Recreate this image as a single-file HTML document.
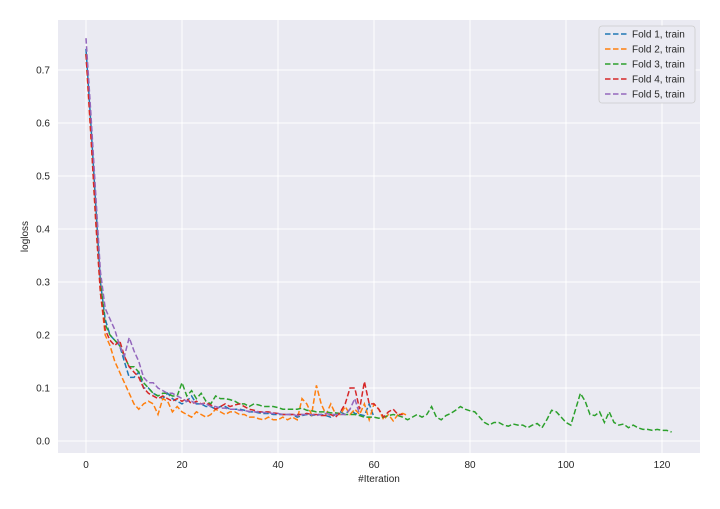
<!DOCTYPE html>
<html><head><meta charset="utf-8"><style>
body{margin:0;background:#fff;font-family:"Liberation Sans",sans-serif}
svg text{font-family:"Liberation Sans",sans-serif;fill:#262626}
</style></head><body>
<svg id="c" width="720" height="504"></svg>
<script>
const xTicks=[0,20,40,60,80,100,120];
const yTicks=[0.0,0.1,0.2,0.3,0.4,0.5,0.6,0.7];
const seriesNames=["Fold 1, train","Fold 2, train","Fold 3, train","Fold 4, train","Fold 5, train"];
const colors=["#1f77b4","#ff7f0e","#2ca02c","#d62728","#9467bd"];
const fold1=[0.74,0.6,0.45,0.3,0.23,0.2,0.19,0.18,0.15,0.12,0.12,0.13,0.1,0.1,0.09,0.085,0.08,0.09,0.08,0.075,0.07,0.075,0.085,0.07,0.07,0.065,0.065,0.06,0.065,0.065,0.06,0.06,0.06,0.058,0.055,0.055,0.053,0.052,0.052,0.05,0.05,0.05,0.05,0.05,0.045,0.048,0.05,0.048,0.05,0.05,0.048,0.045,0.05,0.055,0.05,0.06,0.052,0.05,0.048,0.07,0.045];
const fold2=[0.73,0.58,0.42,0.28,0.2,0.18,0.15,0.13,0.11,0.09,0.07,0.06,0.07,0.075,0.07,0.05,0.08,0.075,0.055,0.065,0.055,0.05,0.045,0.055,0.05,0.045,0.05,0.06,0.055,0.05,0.055,0.055,0.05,0.05,0.045,0.045,0.042,0.04,0.045,0.04,0.04,0.045,0.04,0.045,0.04,0.08,0.07,0.05,0.105,0.07,0.05,0.07,0.05,0.05,0.065,0.05,0.06,0.05,0.07,0.04,0.07,0.06,0.04,0.05,0.038,0.05,0.052,0.048];
const fold3=[0.73,0.6,0.45,0.3,0.22,0.2,0.19,0.18,0.16,0.14,0.14,0.13,0.11,0.1,0.09,0.085,0.09,0.09,0.085,0.085,0.11,0.085,0.095,0.08,0.09,0.075,0.07,0.085,0.08,0.08,0.078,0.075,0.07,0.07,0.065,0.07,0.068,0.065,0.065,0.065,0.063,0.06,0.06,0.06,0.06,0.062,0.058,0.057,0.055,0.055,0.055,0.053,0.053,0.052,0.05,0.05,0.05,0.048,0.045,0.045,0.045,0.043,0.045,0.048,0.05,0.048,0.045,0.04,0.045,0.05,0.045,0.05,0.065,0.045,0.04,0.048,0.052,0.058,0.065,0.06,0.057,0.055,0.045,0.035,0.03,0.035,0.035,0.03,0.028,0.032,0.03,0.03,0.025,0.03,0.033,0.025,0.04,0.058,0.055,0.045,0.035,0.03,0.06,0.09,0.075,0.05,0.048,0.055,0.035,0.055,0.035,0.03,0.032,0.025,0.03,0.025,0.022,0.022,0.02,0.022,0.02,0.02,0.017];
const fold4=[0.73,0.58,0.42,0.28,0.21,0.19,0.18,0.19,0.16,0.14,0.13,0.12,0.1,0.09,0.085,0.08,0.085,0.08,0.075,0.08,0.075,0.08,0.07,0.075,0.07,0.072,0.068,0.06,0.065,0.07,0.065,0.068,0.07,0.065,0.06,0.058,0.055,0.055,0.055,0.053,0.052,0.05,0.05,0.05,0.05,0.05,0.052,0.05,0.05,0.048,0.048,0.05,0.045,0.055,0.07,0.1,0.1,0.06,0.112,0.07,0.07,0.06,0.045,0.055,0.06,0.05,0.05];
const fold5=[0.76,0.62,0.47,0.32,0.25,0.23,0.21,0.18,0.16,0.195,0.17,0.15,0.12,0.11,0.11,0.1,0.095,0.09,0.09,0.085,0.08,0.075,0.075,0.07,0.07,0.07,0.065,0.065,0.062,0.062,0.06,0.06,0.058,0.057,0.056,0.055,0.055,0.054,0.053,0.052,0.052,0.05,0.05,0.05,0.048,0.05,0.05,0.05,0.048,0.05,0.052,0.05,0.05,0.05,0.05,0.06,0.08,0.05];
const series=[fold1,fold2,fold3,fold4,fold5];
const NS="http://www.w3.org/2000/svg";
const svg=document.getElementById('c');
const L=58,R=700,T=20,B=453;
const x=v=>86+(v-0)*4.8;
const y=v=>441-v*530;
function el(t,a,p){const e=document.createElementNS(NS,t);for(const k in a)e.setAttribute(k,a[k]);(p||svg).appendChild(e);return e;}
const bg=el('rect',{x:L,y:T,width:R-L,height:B-T,fill:'#eaeaf2'});


xTicks.forEach(t=>{
 const g=el('line',{x1:x(t),x2:x(t),y1:T,y2:B,stroke:'#fff','stroke-width':1});
 
 
 const tx=el('text',{x:x(t),y:B+15,'text-anchor':'middle','font-size':10});
 tx.textContent=t;
 
 
});
yTicks.forEach(t=>{
 const g=el('line',{x1:L,x2:R,y1:y(t),y2:y(t),stroke:'#fff','stroke-width':1});
 
 
 const tx=el('text',{x:L-8,y:y(t)+3.5,'text-anchor':'end','font-size':10});
 tx.textContent=t.toFixed(1);
 
 
});
series.forEach((s,i)=>{
 const p=el('polyline',{points:s.map((v,j)=>x(j)+','+y(v)).join(' '),fill:'none',stroke:colors[i],'stroke-width':1.5,'stroke-dasharray':'5.5,2.5'});
 
 
});
const xt=el('text',{x:(L+R)/2,y:482,'text-anchor':'middle','font-size':10});
xt.textContent='#Iteration';


const yt=el('text',{x:28,y:(T+B)/2,'text-anchor':'middle','font-size':10,transform:'rotate(-90 28 '+(T+B)/2+')'});
yt.textContent='logloss';


const lg=el('g',{});


el('rect',{x:599,y:26,width:96,height:77,rx:3,fill:'#eaeaf2',stroke:'#ccc','stroke-width':0.8},lg);
seriesNames.forEach((n,i)=>{
 const yy=34+i*15;
 const ln=el('line',{x1:605,x2:627,y1:yy,y2:yy,stroke:colors[i],'stroke-width':1.5,'stroke-dasharray':'5.5,2.5'},lg);
 
 
 const t=el('text',{x:632,y:yy+3.5,'font-size':10},lg);
 t.textContent=n;
 
 
});
</script>
</body></html>
